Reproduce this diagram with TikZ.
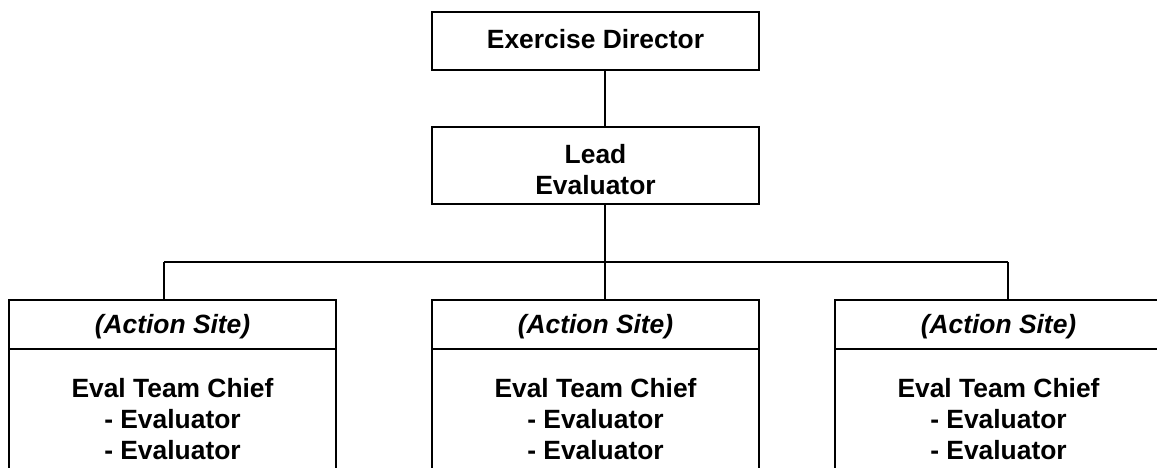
\documentclass[tikz,border=0pt]{standalone}
\usepackage{fontspec}
\setmainfont{Liberation Sans}
\begin{document}
\begin{tikzpicture}[x=1pt,y=-1pt,
  box/.style={draw=black,line width=1.8pt,rectangle,inner sep=0pt,
    minimum width=327pt,align=center},
  lbl/.style={font=\bfseries\fontsize{26.4}{31}\selectfont,align=center,inner sep=0pt},
  wire/.style={draw=black,line width=1.4pt},
  bus/.style={draw=black,line width=2pt}]
\useasboundingbox (0,0) rectangle (1157,468);
\clip (0,0) rectangle (1157,468);

% top of the chain
\node[box,minimum height=58pt] (dir) at (595.5,41) {};
\node[lbl] (dirtxt) at (595.5,39.5) {Exercise Director};
\node[box,minimum height=77pt] (lead) at (595.5,165.5) {};
\node[lbl] (leadtxt) at (595.5,170) {Lead\\Evaluator};

% site boxes: header strip and body
\foreach \i/\cx in {1/172.5,2/595.5,3/998.5}{
  \node[box,minimum height=48.5pt] (site\i) at (\cx,324.5) {};
  \node[lbl,font=\bfseries\itshape\fontsize{26.4}{31}\selectfont] (sitetxt\i) at (\cx,327) {(Action Site)};
  \node[box,minimum height=160pt] (body\i) at (\cx,429) {};
  \node[lbl] (bodytxt\i) at (\cx,419.5) {Eval Team Chief\\- Evaluator\\- Evaluator};
}

% connectors
\coordinate (jl) at (164,262);
\coordinate (jr) at (1008,262);
\draw[wire] ([xshift=9.5pt]dir.south) -- ([xshift=9.5pt]lead.north);
\draw[wire] ([xshift=9.5pt]lead.south) -- ([xshift=9.5pt]site2.north);
\draw[bus] (jl) -- (jr);
\draw[wire] (jl) -- (jl |- site1.north);
\draw[wire] (jr) -- (jr |- site3.north);
\end{tikzpicture}
\end{document}
